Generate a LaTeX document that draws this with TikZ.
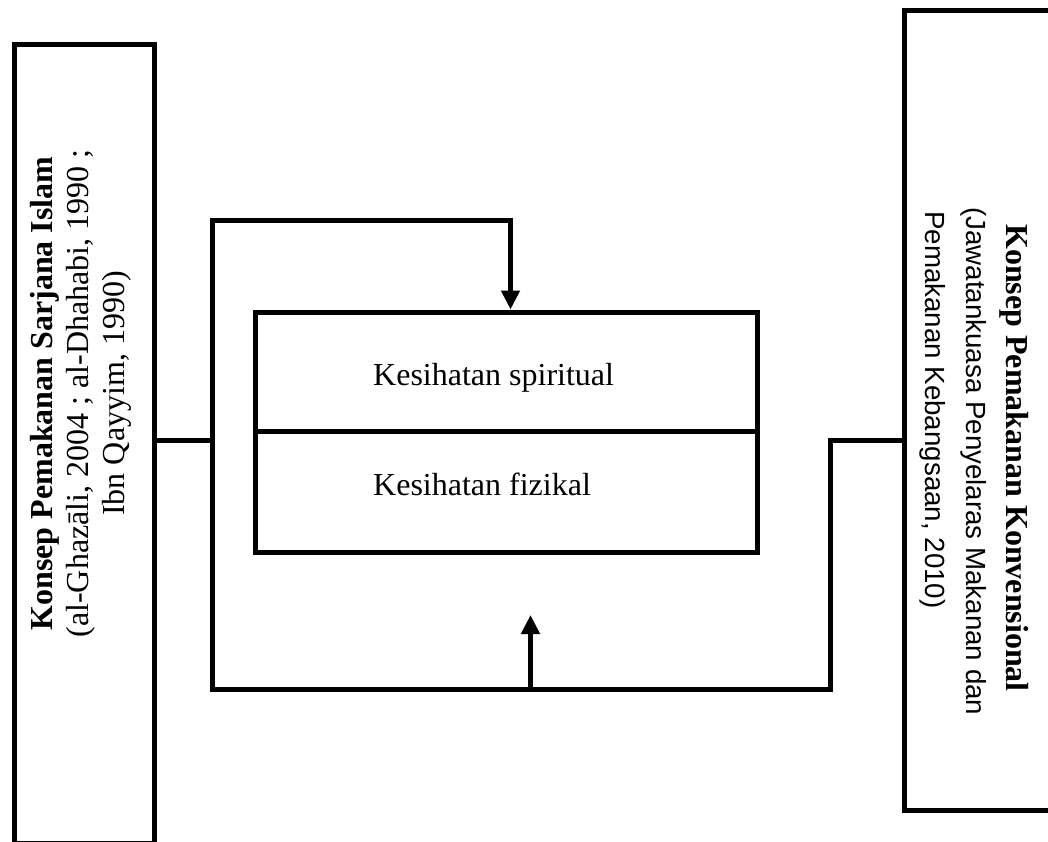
\documentclass[tikz,border=0pt]{standalone}
\usepackage{fontspec}
\setmainfont{Liberation Serif}
\newfontfamily\arialf{Liberation Sans}
\usetikzlibrary{arrows.meta}
\begin{document}
\begin{tikzpicture}[x=1pt,y=-1pt,
  box/.style={draw, line width=5pt, inner sep=0pt},
  conn/.style={draw, line width=5pt},
  tip/.style={-{Triangle[width=18pt,length=19pt]}},
  txt/.style={inner sep=0pt, font=\fontsize{32}{36}\selectfont}]
\useasboundingbox (0,0) rectangle (1048,841);
% boxes
\node[box, minimum width=140pt, minimum height=798.5pt] (L) at (84.5,443.75) {};
\node[box, minimum width=155.5pt, minimum height=800pt] (R) at (982.25,410.5) {};
\node[box, minimum width=501.5pt, minimum height=119.5pt] (S) at (506.25,371.75) {};
\node[box, minimum width=501.5pt, minimum height=120.5pt] (F) at (506.25,491.75) {};
% texts
\node[txt, rotate=90, align=center] (Lt) at (80.7,393.5)
  {\textbf{Konsep Pemakanan Sarjana Islam}\\(al-Ghazāli, 2004 ; al-Dhahabi, 1990 ;\\Ibn Qayyim, 1990)};
\node[txt, rotate=-90, align=left, anchor=north west] (Rt) at (1029,207)
  {\hspace*{17pt}\textbf{Konsep Pemakanan Konvensional}\\[4pt]{\arialf\fontsize{27.7}{36}\selectfont (Jawatankuasa Penyelaras Makanan dan}\\[5pt]{\arialf\fontsize{27.7}{36}\selectfont \hspace*{4pt}Pemakanan Kebangsaan, 2010)}};
\node[txt, anchor=base west] (St) at (373,385) {Kesihatan spiritual};
\node[txt, anchor=base west] (Ft) at (373,495) {Kesihatan fizikal};
% connectors
\coordinate (jl) at (212,440.5);
\coordinate (bl) at (212,689.5);
\coordinate (br) at (830.5,689.5);
\coordinate (tp) at (510.5,220.5);
\coordinate (bm) at (530.5,689.5);
\coordinate (bt) at (530.5,615);
\draw[conn] (L.east |- jl) -- (jl);
\draw[conn, tip] (R.west |- jl) -| (br) -- (bl) |- (tp) -- (tp |- S.north);
\draw[conn, tip] (bm) -- (bt);
\end{tikzpicture}
\end{document}
